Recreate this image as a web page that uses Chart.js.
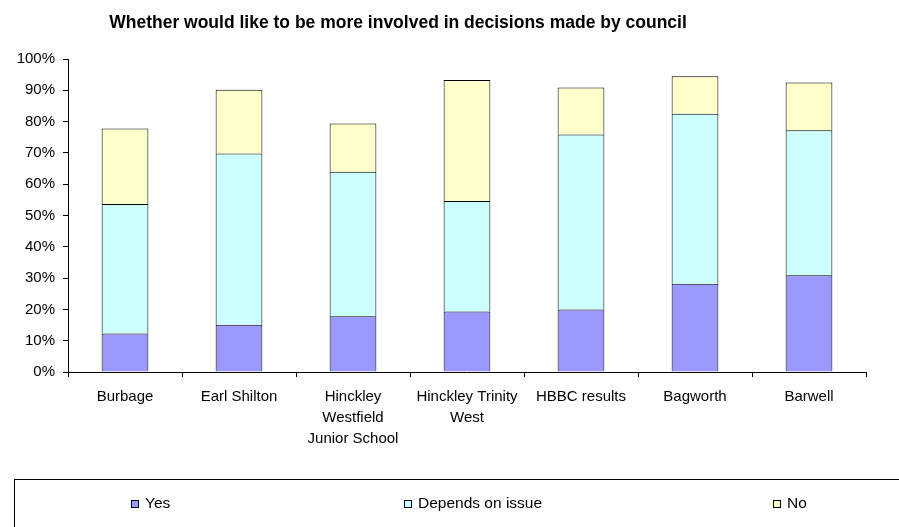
<!DOCTYPE html>
<html>
<head>
<meta charset="utf-8">
<script src="https://cdn.jsdelivr.net/npm/chart.js@4"></script>
<style>
  html, body { margin: 0; padding: 0; background: #fff; }
  #wrap { width: 899px; height: 527px; position: relative; }
</style>
</head>
<body>
<div id="wrap"><canvas id="chart" width="899" height="527"></canvas></div>
<script>
const chartTitle = 'Whether would like to be more involved in decisions made by council';
const categories = [
  'Burbage',
  'Earl Shilton',
  ['Hinckley', 'Westfield', 'Junior School'],
  ['Hinckley Trinity', 'West'],
  'HBBC results',
  'Bagworth',
  'Barwell',
];
const seriesNames = ['Yes', 'Depends on issue', 'No'];
const yesValues = [12.3, 15.1, 17.8, 19.3, 20.0, 28.2, 30.9];
const dependsValues = [41.4, 54.7, 46.2, 35.3, 55.9, 54.3, 46.3];
const noValues = [24.1, 20.4, 15.4, 38.7, 15.0, 12.0, 15.3];
const colors = ['#9999FF', '#CCFFFF', '#FFFFCC'];

const FONT = '"Liberation Sans", Arial, sans-serif';

// title and boxed legend drawn by hand to match the Excel layout
const decorPlugin = {
  id: 'decor',
  afterDraw(chart) {
    const ctx = chart.ctx;
    ctx.save();
    ctx.fillStyle = '#000';
    ctx.font = 'bold 17.5px ' + FONT;
    ctx.textAlign = 'center';
    ctx.textBaseline = 'alphabetic';
    ctx.fillText(chartTitle, 398, 28);

    ctx.strokeStyle = '#000';
    ctx.lineWidth = 1;
    ctx.strokeRect(14.5, 479.5, 1000, 100);

    const xs = [131, 404, 773];
    ctx.font = '15.5px ' + FONT;
    ctx.textAlign = 'left';
    ctx.textBaseline = 'middle';
    chart.data.datasets.forEach((ds, i) => {
      ctx.fillStyle = ds.backgroundColor;
      ctx.fillRect(xs[i] + 0.5, 500.5, 7, 7);
      ctx.strokeRect(xs[i] + 0.5, 500.5, 7, 7);
      ctx.fillStyle = '#000';
      ctx.fillText(ds.label, xs[i] + 14, 504);
    });
    ctx.restore();
  },
};

new Chart(document.getElementById('chart'), {
  type: 'bar',
  data: {
    labels: categories,
    datasets: [yesValues, dependsValues, noValues].map((d, i) => ({
      label: seriesNames[i],
      data: d,
      backgroundColor: colors[i],
      borderColor: '#000',
      borderWidth: 1,
      barPercentage: 0.41,
      categoryPercentage: 1,
    })),
  },
  options: {
    responsive: false,
    animation: false,
    layout: { padding: { top: 59, right: 33, left: 0, bottom: 0 } },
    plugins: {
      legend: { display: false },
      title: { display: false },
      tooltip: { enabled: false },
    },
    scales: {
      x: {
        stacked: true,
        grid: { drawOnChartArea: false, drawTicks: true, tickLength: 5, color: '#000' },
        border: { display: true, color: '#000' },
        ticks: {
          color: '#000',
          font: { family: FONT, size: 15, lineHeight: 1.37 },
          maxRotation: 0,
          autoSkip: false,
          padding: 10,
        },
        afterFit(scale) { scale.height = 155; },
      },
      y: {
        stacked: true,
        min: 0,
        max: 100,
        grid: { drawOnChartArea: false, drawTicks: true, tickLength: 5, color: '#000' },
        border: { display: true, color: '#000' },
        ticks: {
          stepSize: 10,
          color: '#000',
          font: { family: FONT, size: 15 },
          padding: 8,
          callback: v => v + '%',
        },
        afterFit(scale) { scale.width = 68; },
      },
    },
  },
  plugins: [decorPlugin],
});
</script>
</body>
</html>
